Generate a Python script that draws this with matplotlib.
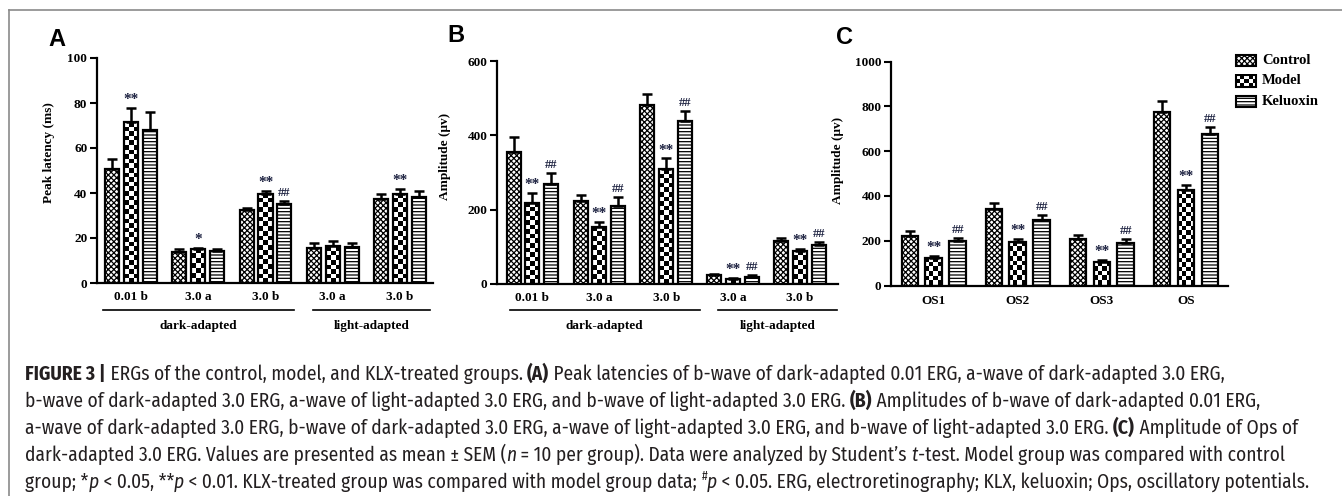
import numpy as np
import matplotlib
matplotlib.use("Agg")
import matplotlib.pyplot as plt
from matplotlib import font_manager as fm
from matplotlib.lines import Line2D
from matplotlib.transforms import blended_transform_factory

# ---- data ----
series_names = ["Control", "Model", "Keluoxin"]

erg_labels = ["0.01 b", "3.0 a", "3.0 b", "3.0 a", "3.0 b"]
adapt_labels = ["dark-adapted", "light-adapted"]

lat_ctrl = [50.7, 13.8, 32.6, 15.6, 37.5]
lat_ctrl_err = [4.4, 1.3, 0.6, 2.2, 2.2]
lat_model = [71.4, 15.2, 39.6, 16.3, 39.6]
lat_model_err = [6.5, 0.5, 1.3, 2.5, 2.4]
lat_klx = [68.0, 14.3, 35.3, 15.9, 38.2]
lat_klx_err = [8.0, 0.6, 1.3, 1.9, 2.7]
lat_marks_model = ["**", "*", "**", "", "**"]
lat_marks_klx = ["", "", "##", "", ""]

amp_ctrl = [354, 224, 481, 23, 115]
amp_ctrl_err = [41, 15, 30, 4, 10]
amp_model = [218, 154, 309, 13, 90]
amp_model_err = [27, 13, 29, 3, 5]
amp_klx = [269, 211, 439, 20, 106]
amp_klx_err = [30, 24, 26, 4, 7]
amp_marks_model = ["**", "**", "**", "**", "**"]
amp_marks_klx = ["##", "##", "##", "##", "##"]

ops_labels = ["OS1", "OS2", "OS3", "OS"]
ops_ctrl = [221, 343, 206, 773]
ops_ctrl_err = [22, 24, 21, 52]
ops_model = [124, 194, 107, 425]
ops_model_err = [7, 15, 8, 23]
ops_klx = [197, 291, 191, 676]
ops_klx_err = [15, 25, 18, 33]
ops_marks_model = ["**", "**", "**", "**"]
ops_marks_klx = ["##", "##", "##", "##"]

W, H = 1342, 496
SERIF = "Liberation Serif"
SANS = "Liberation Sans"
MARK_COLOR = "#1c2140"


def pick_caption_font():
    # prefer a condensed sans (the caption is set in a narrow Helvetica)
    faces = {}
    for f in fm.fontManager.ttflist:
        faces.setdefault(f.name, set()).add((f.style, f.weight))
    narrow = [n for n in sorted(faces)
              if "Sans" in n and ("Narrow" in n or "Condensed" in n)]
    narrow.sort(key=lambda n: (not any(s == "italic" for s, _ in faces[n]),
                               "Narrow" not in n))
    if narrow:
        fam = narrow[0]
        has_it = any(s == "italic" for s, _ in faces[fam])
        return fam, (fam if has_it else SANS)
    return SANS, SANS


CAP_FONT, CAP_ITALIC = pick_caption_font()

plt.rcParams["font.family"] = SERIF
plt.rcParams["font.weight"] = "bold"
plt.rcParams["axes.labelweight"] = "bold"
plt.rcParams["hatch.linewidth"] = 0.9

fig = plt.figure(figsize=(W / 100, H / 100), dpi=100)


def px_axes(left, top, right, bottom):
    return fig.add_axes([left / W, 1 - bottom / H, (right - left) / W, (bottom - top) / H])


def checker_bars(ax, xs, vals, width, cell=4.6):
    fills = ax.bar(xs, vals, width, color="white", edgecolor="none", zorder=1)
    for x, v, p in zip(xs, vals, fills):
        p0 = ax.transData.transform((x - width / 2, 0))
        p1 = ax.transData.transform((x + width / 2, v))
        nx = max(1, int(round((p1[0] - p0[0]) / cell)))
        ny = max(1, int(round((p1[1] - p0[1]) / cell)))
        grid = np.add.outer(np.arange(ny), np.arange(nx)) % 2
        im = ax.imshow(grid, cmap="gray_r", vmin=0, vmax=1, origin="lower",
                       extent=(x - width / 2, x + width / 2, 0, v),
                       aspect="auto", interpolation="nearest", zorder=2)
        im.set_clip_path(p)
    ax.bar(xs, vals, width, fill=False, edgecolor="black", lw=1.6, zorder=3)


def draw_series(ax, xs, vals, errs, style, width, marks=None, err=True):
    if style == "checker":
        checker_bars(ax, xs, vals, width)
    else:
        hatch = "xxxxxx" if style == "fine" else "-----"
        ax.bar(xs, vals, width, facecolor="white", edgecolor="black",
               hatch=hatch, lw=1.6, zorder=3)
    if err:
        ax.errorbar(xs, vals, yerr=[np.zeros(len(vals)), errs], fmt="none",
                    ecolor="black", elinewidth=1.8, capsize=3.5, capthick=1.8,
                    zorder=4)
    if marks:
        for x, v, e, m in zip(xs, vals, errs, marks):
            if not m:
                continue
            fs = 9 if m.startswith("#") else 11
            ax.annotate(m, (x, v + e), xytext=(0, 3.5), textcoords="offset points",
                        ha="center", va="baseline", fontsize=fs, color=MARK_COLOR)


def setup_axes(ax, xlim, ylim, yticks, ylabel, label_xy):
    ax.set_xlim(*xlim)
    ax.set_ylim(*ylim)
    ax.set_autoscale_on(False)
    for s in ("top", "right"):
        ax.spines[s].set_visible(False)
    for s in ("left", "bottom"):
        ax.spines[s].set_linewidth(1.6)
    ax.set_yticks(yticks)
    ax.tick_params(axis="y", length=5, width=1.5, pad=2, labelsize=9.5)
    ax.set_ylabel(ylabel, fontsize=9.5)
    ax.yaxis.set_label_coords(*label_xy)


def panel(ax, labels, ctrl, ctrl_err, model, model_err, klx, klx_err,
          marks_model, marks_klx, off, width, xpad):
    idx = np.arange(len(labels))
    draw_series(ax, idx - off, ctrl, ctrl_err, "fine", width)
    draw_series(ax, idx, model, model_err, "checker", width, marks_model)
    draw_series(ax, idx + off, klx, klx_err, "stripe", width, marks_klx)
    ax.set_xticks(idx, labels)
    ax.tick_params(axis="x", length=0, pad=xpad, labelsize=9.5)


def adapt_groups(ax, spans, y_line, y_text):
    tr = blended_transform_factory(ax.transData, ax.transAxes)
    for (x0, x1), name in zip(spans, adapt_labels):
        ax.plot([x0, x1], [y_line, y_line], color="black", lw=1.2,
                transform=tr, clip_on=False)
        ax.text((x0 + x1) / 2, y_text, name, transform=tr, ha="center",
                va="center", fontsize=9.5)


# ---- panel A ----
axA = px_axes(97, 58, 433, 283)
setup_axes(axA, (-0.505, 4.49), (0, 100), range(0, 101, 20),
           "Peak latency (ms)", (-0.125, 0.58))
panel(axA, erg_labels, lat_ctrl, lat_ctrl_err, lat_model, lat_model_err,
      lat_klx, lat_klx_err, lat_marks_model, lat_marks_klx, 0.28, 0.21, 5.5)
adapt_groups(axA, [(-0.42, 2.42), (2.70, 4.445)], -0.12, -0.191)

# ---- panel B ----
axB = px_axes(497, 61, 838, 284)
setup_axes(axB, (-0.53, 4.57), (0, 600), range(0, 601, 200),
           "Amplitude (\u03bcv)", (-0.135, 0.57))
panel(axB, erg_labels, amp_ctrl, amp_ctrl_err, amp_model, amp_model_err,
      amp_klx, amp_klx_err, amp_marks_model, amp_marks_klx, 0.28, 0.21, 5.5)
adapt_groups(axB, [(-0.34, 2.5), (2.78, 4.55)], -0.117, -0.188)

# ---- panel C ----
axC = px_axes(891, 61.5, 1228, 285.5)
setup_axes(axC, (-0.51, 3.5), (0, 1000), range(0, 1001, 200),
           "Amplitude (\u03bcv)", (-0.139, 0.56))
panel(axC, ops_labels, ops_ctrl, ops_ctrl_err, ops_model, ops_model_err,
      ops_klx, ops_klx_err, ops_marks_model, ops_marks_klx, 0.285, 0.2, 6.5)

# legend swatches drawn as tiny bars
for k, (name, style) in enumerate(zip(series_names, ["fine", "checker", "stripe"])):
    top = 53 + 20.5 * k
    lax = px_axes(1233, top, 1259, top + 15)
    lax.set_xlim(-0.62, 0.62)
    lax.set_ylim(-0.15, 1.15)
    lax.set_autoscale_on(False)
    lax.axis("off")
    draw_series(lax, [0], [1], [0], style, 1.0, err=False)
    for p in lax.patches:
        p.set_linewidth(1.5)
    fig.text(1262 / W, 1 - (top + 7.5) / H, name, fontsize=10.5, va="center",
             ha="left")

# panel letters
for letter, (x, y) in zip("ABC", [(57, 39), (456, 36), (845, 37)]):
    fig.text(x / W, 1 - y / H, letter, family=SANS, fontweight="bold",
             fontsize=17, ha="center", va="center")

# frame (top + left rule)
fig.add_artist(Line2D([9 / W, 1], [1 - 10 / H, 1 - 10 / H], color="#8a8a8a",
                      lw=1.2, transform=fig.transFigure))
fig.add_artist(Line2D([9 / W, 9 / W], [0, 1 - 10 / H], color="#8a8a8a",
                      lw=1.2, transform=fig.transFigure))

# ---- caption with mixed styles ----
N, B, I, S = ("normal", "normal", False), ("bold", "normal", False), \
    ("normal", "italic", False), ("normal", "normal", True)
cap_lines = [
    [("FIGURE 3 |", B), (" ERGs of the control, model, and KLX-treated groups. ", N),
     ("(A)", B), (" Peak latencies of b-wave of dark-adapted 0.01 ERG, a-wave of dark-adapted 3.0 ERG,", N)],
    [("b-wave of dark-adapted 3.0 ERG, a-wave of light-adapted 3.0 ERG, and b-wave of light-adapted 3.0 ERG. ", N),
     ("(B)", B), (" Amplitudes of b-wave of dark-adapted 0.01 ERG,", N)],
    [("a-wave of dark-adapted 3.0 ERG, b-wave of dark-adapted 3.0 ERG, a-wave of light-adapted 3.0 ERG, and b-wave of light-adapted 3.0 ERG. ", N),
     ("(C)", B), (" Amplitude of Ops of", N)],
    [("dark-adapted 3.0 ERG. Values are presented as mean \u00b1 SEM (", N), ("n", I),
     (" = 10 per group). Data were analyzed by Student\u2019s ", N), ("t", I),
     ("-test. Model group was compared with control", N)],
    [("group; *", N), ("p", I), (" < 0.05, **", N), ("p", I),
     (" < 0.01. KLX-treated group was compared with model group data; ", N),
     ("#", S), ("p", I),
     (" < 0.05. ERG, electroretinography; KLX, keluoxin; Ops, oscillatory potentials.", N)],
]

renderer = fig.canvas.get_renderer()


def cap_family(style):
    return CAP_ITALIC if style == "italic" else CAP_FONT


def seg_width(text, size, weight, style):
    prop = fm.FontProperties(family=cap_family(style), size=size, weight=weight,
                             style=style)
    w_full = renderer.get_text_width_height_descent("|" + text + "|", prop, ismath=False)[0]
    w_bar = renderer.get_text_width_height_descent("||", prop, ismath=False)[0]
    return w_full - w_bar


def line_width(segs, size):
    return sum(seg_width(t, size * (0.62 if st[2] else 1), st[0], st[1]) for t, st in segs)


base = 10.0
cap_size = base * 1283 / max(line_width(l, base) for l in cap_lines)
for k, segs in enumerate(cap_lines):
    x = 25.0
    yb = 373 + 27 * k + 0.36 * cap_size * 100 / 72
    for text, (weight, style, sup) in segs:
        fs = cap_size * 0.62 if sup else cap_size
        y = yb - (0.42 * cap_size * 100 / 72 if sup else 0)
        fig.text(x / W, 1 - y / H, text, family=cap_family(style), fontsize=fs,
                 fontweight=weight, fontstyle=style, va="baseline", ha="left",
                 color="#231f20")
        x += seg_width(text, fs, weight, style)

fig.savefig("out.png", dpi=100)
